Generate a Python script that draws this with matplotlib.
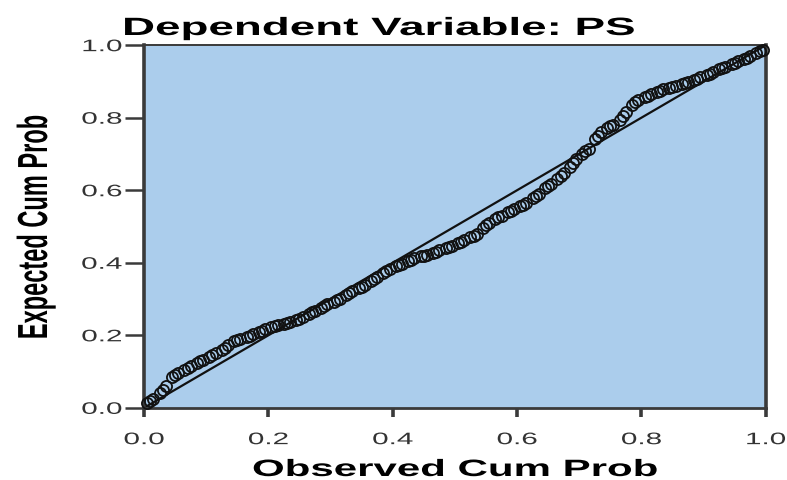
import matplotlib
matplotlib.use("Agg")
import matplotlib.pyplot as plt
from matplotlib import patheffects
from matplotlib.transforms import Affine2D

# P-P plot of regression residuals
observed = [0.005, 0.015, 0.025, 0.035, 0.045, 0.055, 0.065, 0.075, 0.085, 0.095,
            0.105, 0.115, 0.125, 0.135, 0.145, 0.155, 0.165, 0.175, 0.185, 0.195,
            0.205, 0.215, 0.225, 0.235, 0.245, 0.255, 0.265, 0.275, 0.285, 0.295,
            0.305, 0.315, 0.325, 0.335, 0.345, 0.355, 0.365, 0.375, 0.385, 0.395,
            0.405, 0.415, 0.425, 0.435, 0.445, 0.455, 0.465, 0.475, 0.485, 0.495,
            0.505, 0.515, 0.525, 0.535, 0.545, 0.555, 0.565, 0.575, 0.585, 0.595,
            0.605, 0.615, 0.625, 0.635, 0.645, 0.655, 0.665, 0.675, 0.685, 0.695,
            0.705, 0.715, 0.725, 0.735, 0.745, 0.755, 0.765, 0.775, 0.785, 0.795,
            0.805, 0.815, 0.825, 0.835, 0.845, 0.855, 0.865, 0.875, 0.885, 0.895,
            0.905, 0.915, 0.925, 0.935, 0.945, 0.955, 0.965, 0.975, 0.985, 0.995]
expected = [0.012, 0.025, 0.040, 0.060, 0.085, 0.095, 0.105, 0.115, 0.125, 0.133,
            0.140, 0.150, 0.160, 0.172, 0.185, 0.190, 0.195, 0.203, 0.210, 0.217,
            0.222, 0.228, 0.232, 0.237, 0.242, 0.250, 0.260, 0.268, 0.275, 0.285,
            0.293, 0.300, 0.310, 0.322, 0.330, 0.338, 0.350, 0.362, 0.372, 0.382,
            0.390, 0.397, 0.405, 0.412, 0.418, 0.422, 0.428, 0.435, 0.440, 0.447,
            0.455, 0.462, 0.470, 0.480, 0.495, 0.510, 0.520, 0.530, 0.540, 0.548,
            0.556, 0.565, 0.578, 0.590, 0.605, 0.618, 0.632, 0.648, 0.665, 0.685,
            0.700, 0.715, 0.740, 0.760, 0.772, 0.780, 0.795, 0.815, 0.835, 0.848,
            0.857, 0.865, 0.872, 0.878, 0.883, 0.888, 0.893, 0.898, 0.905, 0.912,
            0.918, 0.925, 0.933, 0.940, 0.948, 0.955, 0.962, 0.970, 0.978, 0.988]
# second batch of cases, read in between the first ones
observed_b = [0.01, 0.03, 0.05, 0.07, 0.09, 0.11, 0.13, 0.15, 0.17, 0.19,
              0.21, 0.23, 0.25, 0.27, 0.29, 0.31, 0.33, 0.35, 0.37, 0.39,
              0.41, 0.43, 0.45, 0.47, 0.49, 0.51, 0.53, 0.55, 0.57, 0.59,
              0.61, 0.63, 0.65, 0.67, 0.69, 0.71, 0.73, 0.75, 0.77, 0.79,
              0.81, 0.83, 0.85, 0.87, 0.89, 0.91, 0.93, 0.95, 0.97, 0.99]
expected_b = [0.018, 0.050, 0.090, 0.110, 0.130, 0.145, 0.166, 0.188, 0.199, 0.213,
              0.225, 0.235, 0.246, 0.264, 0.280, 0.297, 0.316, 0.334, 0.356, 0.377,
              0.394, 0.408, 0.420, 0.431, 0.443, 0.458, 0.475, 0.503, 0.525, 0.544,
              0.560, 0.584, 0.611, 0.640, 0.675, 0.708, 0.750, 0.776, 0.805, 0.842,
              0.861, 0.875, 0.885, 0.895, 0.908, 0.921, 0.936, 0.951, 0.966, 0.983]
ref_line = [0.0, 1.0]
ticks = [0.0, 0.2, 0.4, 0.6, 0.8, 1.0]
tick_labels = ["0.0", "0.2", "0.4", "0.6", "0.8", "1.0"]

SX = 1.78  # the reference picture is stretched sideways


class Stretch(patheffects.AbstractPathEffect):
    """Scale glyph outlines in text coords (keeps the text a Text artist)."""

    def __init__(self, sx=1.0, sy=1.0, anchor="left"):
        super().__init__()
        self.sx, self.sy, self.anchor = sx, sy, anchor

    def draw_path(self, renderer, gc, tpath, affine, rgbFace=None):
        ext = tpath.get_extents()
        if self.anchor == "center":
            cx = (ext.x0 + ext.x1) / 2
        elif self.anchor == "right":
            cx = ext.x1
        else:
            cx = 0.0
        t = Affine2D().translate(-cx, 0).scale(self.sx, self.sy).translate(cx, 0) + affine
        renderer.draw_path(gc, tpath, t, rgbFace)


fig = plt.figure(figsize=(7.87, 4.81), dpi=100)
ax = fig.add_axes([0.183, 0.150, 0.790, 0.754])
ax.set_facecolor("#abcdec")

ax.plot(ref_line, ref_line, color="#111111", lw=1.6, zorder=2)
for xs, ys in [(observed, expected), (observed_b, expected_b)]:
    ax.plot(xs, ys, ls="none", marker="o", ms=8, mfc="none",
            mec="#111111", mew=1.3, zorder=3, clip_on=False)

ax.set_xlim(0, 1)
ax.set_ylim(0, 1)
ax.set_xticks(ticks)
ax.set_xticklabels(tick_labels)
ax.set_yticks(ticks)
ax.set_yticklabels(tick_labels)
ax.tick_params(axis="x", length=6.5, width=2.6, color="#3a3a3a", pad=11)
ax.tick_params(axis="y", length=14, width=1.8, color="#3a3a3a", pad=2)
for lab in ax.get_xticklabels():
    lab.set_fontsize(12)
    lab.set_family("Liberation Sans")
    lab.set_color("#333333")
    lab.set_path_effects([Stretch(SX, 1, "center")])
for lab in ax.get_yticklabels():
    lab.set_fontsize(12)
    lab.set_family("Liberation Sans")
    lab.set_color("#333333")
    lab.set_path_effects([Stretch(SX, 1, "right")])

for side in ["left", "bottom", "right"]:
    ax.spines[side].set_color("#3a3a3a")
ax.spines["left"].set_linewidth(2.6)
ax.spines["right"].set_linewidth(2.6)
ax.spines["bottom"].set_linewidth(2.0)
ax.spines["top"].set_linewidth(1.4)
ax.spines["top"].set_color("#3a3a3a")

fig.text(122 / 787, 1 - 36 / 481, "Dependent Variable: PS", ha="left", va="baseline",
         fontsize=18, fontweight="bold", family="Liberation Sans",
         path_effects=[Stretch(1.83, 1, "left")])
fig.text(252 / 787, 1 - 477 / 481, "Observed Cum Prob", ha="left", va="baseline",
         fontsize=17, fontweight="bold", family="Liberation Sans",
         path_effects=[Stretch(SX, 1, "left")])
fig.text(47 / 787, 1 - 228 / 481, "Expected Cum Prob", ha="center", va="baseline",
         rotation=90, rotation_mode="anchor", fontsize=17, fontweight="bold",
         family="Liberation Sans", path_effects=[Stretch(1, SX, "left")])

fig.savefig("out.png", dpi=100)
